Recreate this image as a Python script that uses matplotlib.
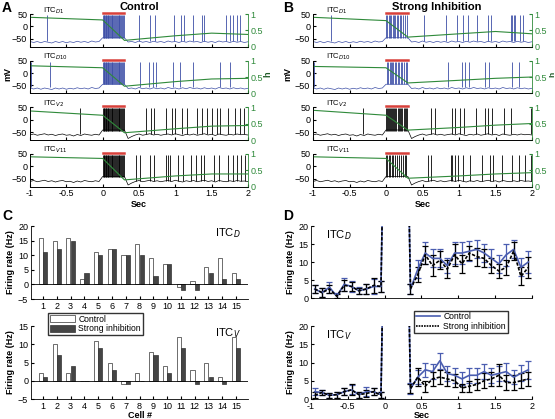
import numpy as np
import matplotlib.pyplot as plt
from matplotlib.lines import Line2D

plt.rcParams['font.family'] = ['Liberation Sans', 'DejaVu Sans']
plt.rcParams['font.size'] = 6.5
plt.rcParams['xtick.direction'] = 'in'
plt.rcParams['ytick.direction'] = 'in'
plt.rcParams['xtick.major.size'] = 2
plt.rcParams['ytick.major.size'] = 2
plt.rcParams['xtick.major.pad'] = 2
plt.rcParams['ytick.major.pad'] = 2
plt.rcParams['axes.linewidth'] = 0.6

# ---- traces (panels A, B) ----
t_grid = np.linspace(-1, 2, 61)
vm_d = [-60, -64, -60, -65, -60, -63, -66, -60, -64, -60, -65, -61, -64, -59, -63, -60, -64, -58, -62, -60,
        -45, -45, -45, -45, -45, -45, -45,
        -62, -60, -64, -58, -63, -60, -64, -59, -63, -60, -64, -58, -62, -60, -64, -59, -63, -58, -62, -60,
        -64, -59, -63, -60, -64, -58, -62, -60, -64, -59, -63, -60, -64, -61]
vm_v = [-62, -58, -63, -60, -57, -62, -59, -64, -60, -58, -63, -61, -66, -60, -64, -58, -61, -63, -59, -62,
        -42, -42, -42, -42, -42, -42, -42,
        -76, -68, -62, -58, -63, -60, -57, -62, -59, -63, -60, -58, -62, -57, -61, -64, -59, -62, -58, -63,
        -60, -57, -62, -59, -64, -58, -61, -63, -59, -62, -58, -61, -60, -62]

burst_ctrl = [0.004, 0.013, 0.022, 0.031, 0.040, 0.050, 0.060, 0.070, 0.080, 0.091, 0.102, 0.113, 0.124,
              0.135, 0.147, 0.159, 0.171, 0.183, 0.195, 0.207, 0.219, 0.231, 0.243, 0.255, 0.267, 0.279, 0.291]
burst_b_d1 = [0.005, 0.02, 0.035, 0.05, 0.07, 0.09, 0.11, 0.13, 0.15, 0.17, 0.19, 0.21, 0.235, 0.26, 0.285]
burst_b_d10 = [0.01, 0.03, 0.05, 0.065, 0.08, 0.1, 0.12, 0.14, 0.165, 0.18, 0.2, 0.225, 0.25, 0.27, 0.29]
burst_b_v2 = [0.004, 0.015, 0.026, 0.04, 0.055, 0.068, 0.08, 0.095, 0.11, 0.125, 0.14, 0.16, 0.175, 0.19,
              0.21, 0.225, 0.24, 0.26, 0.275, 0.29]
burst_b_v11 = [0.005, 0.02, 0.04, 0.06, 0.08, 0.1, 0.13, 0.15, 0.18, 0.2, 0.23, 0.26, 0.28]

spk_a_d1 = [-0.77, 0.50, 0.65, 0.72, 0.98, 1.08, 1.12, 1.24, 1.37, 1.40, 1.70, 1.75, 1.79, 1.85, 1.89]
spk_a_d10 = [-0.99, -0.73, 0.51, 0.64, 0.69, 0.74, 0.97, 1.06, 1.24, 1.61, 1.75]
spk_a_v2 = [-0.31, 0.60, 0.67, 0.71, 0.87, 0.96, 1.0, 1.09, 1.16, 1.30, 1.37, 1.44, 1.51, 1.58, 1.61,
            1.73, 1.82, 1.89, 1.94]
spk_a_v11 = [0.46, 0.51, 0.65, 0.70, 0.87, 0.90, 0.93, 1.03, 1.10, 1.21, 1.29, 1.35, 1.40, 1.53, 1.60,
             1.73, 1.79, 1.85, 1.90, 1.96]
spk_b_d1 = [-0.75, 0.52, 0.82, 0.97, 1.05, 1.13, 1.25, 1.40, 1.44, 1.71, 1.73, 1.75, 1.77, 1.83, 1.88]
spk_b_d10 = [-0.99, 0.85, 1.04, 1.08, 1.14, 1.36, 1.41, 1.73, 1.82]
spk_b_v2 = [-0.32, 0.61, 0.67, 0.90, 0.94, 1.02, 1.07, 1.23, 1.35, 1.40, 1.45, 1.62, 1.71, 1.99]
spk_b_v11 = [0.57, 0.61, 0.89, 0.91, 0.95, 0.99, 1.05, 1.15, 1.32, 1.42, 1.47, 1.59, 1.73, 1.82, 1.91, 1.99]

h_t = [-1, 0, 0.3, 1.0, 1.5, 2.0]
h_a_d1 = [0.9, 0.82, 0.2, 0.34, 0.42, 0.38]
h_a_d10 = [0.84, 0.78, 0.22, 0.36, 0.44, 0.46]
h_a_v2 = [0.88, 0.75, 0.22, 0.34, 0.42, 0.44]
h_a_v11 = [0.9, 0.85, 0.2, 0.32, 0.38, 0.38]
h_b_d1 = [0.9, 0.8, 0.3, 0.4, 0.47, 0.4]
h_b_d10 = [0.82, 0.78, 0.32, 0.4, 0.46, 0.5]
h_b_v2 = [0.9, 0.75, 0.3, 0.38, 0.45, 0.5]
h_b_v11 = [0.9, 0.85, 0.25, 0.32, 0.38, 0.42]

trace_names = ['ITC$_{D1}$', 'ITC$_{D10}$', 'ITC$_{V2}$', 'ITC$_{V11}$']

# ---- panel C ----
cells = np.arange(1, 16)
rate_cd_ctrl = [16, 15, 16, 2, 11, 12, 10, 14, 9, 7, -1, 1, 6, 9, 4]
rate_cd_strong = [11, 12, 15, 4, 10, 12, 10, 10, 3, 7, -2, -2, 4, 2, 2]
rate_cv_ctrl = [2, 10, 2, 0, 11, 5, -1, 2, 8, 4, 12, 3, 5, 1, 12]
rate_cv_strong = [1, 7, 4, 0, 9, 3, -1, 0, 7, 2, 9, -1, 1, -1, 9]

# ---- panel D ----
t_bins = np.round(np.arange(-0.95, 2.0, 0.1), 2)
rate_d_ctrl = [2.5, 1.5, 3.0, 0.5, 3.8, 3.2, 2.0, 2.5, 3.2, 3.2, 120, 120, 120, 2.5, 8.0, 12.5, 11.0,
               11.0, 9.0, 12.5, 12.5, 13.0, 13.5, 12.5, 11.0, 9.5, 12.0, 13.5, 8.5, 10.0]
err_d_ctrl = [1.2, 1.2, 1.5, 0.8, 1.8, 1.5, 1.0, 1.5, 2.0, 1.5, 0, 0, 0, 1.5, 2.5, 3.0, 2.5, 2.5, 2.0,
              3.0, 3.0, 2.8, 2.5, 2.5, 2.5, 2.5, 3.0, 2.5, 2.5, 3.0]
rate_d_strong = [2.5, 1.5, 2.5, 0.5, 3.5, 3.2, 2.0, 2.5, 3.5, 3.2, 120, 120, 120, 2.5, 6.5, 12.0, 9.0,
                 10.5, 8.0, 12.0, 9.5, 12.5, 11.5, 11.0, 9.0, 7.5, 8.5, 13.0, 6.0, 8.5]
err_d_strong = [1.2, 1.2, 1.2, 0.6, 1.5, 1.2, 0.8, 1.5, 2.0, 1.5, 0, 0, 0, 1.5, 2.0, 2.5, 3.0, 2.5, 2.5,
                3.0, 2.5, 2.0, 2.5, 2.5, 2.0, 2.0, 2.0, 2.5, 2.5, 3.0]
rate_v_ctrl = [2.0, 1.8, 1.0, 1.2, 2.0, 2.5, 1.2, 2.0, 2.0, 1.2, 120, 120, 120, 2.8, 6.0, 8.0, 7.5,
               10.5, 7.0, 6.5, 5.5, 6.5, 6.5, 7.5, 6.5, 7.0, 7.5, 6.0, 7.0, 8.0]
err_v_ctrl = [1.0, 0.8, 0.6, 0.8, 1.0, 1.2, 0.8, 1.2, 1.0, 0.8, 0, 0, 0, 1.5, 2.0, 2.0, 2.0, 2.2, 2.0,
              2.0, 1.8, 2.0, 2.0, 2.0, 2.0, 2.0, 2.5, 2.0, 2.2, 2.5]
rate_v_strong = [1.0, 1.8, 1.0, 1.2, 2.0, 2.5, 1.2, 1.5, 2.0, 1.0, 120, 120, 120, 2.8, 6.0, 3.5, 5.5,
                 6.0, 5.5, 5.0, 3.0, 3.5, 4.0, 5.0, 5.5, 6.5, 4.5, 4.5, 5.0, 5.5]
err_v_strong = [0.8, 0.8, 0.6, 0.8, 1.0, 1.5, 0.8, 1.0, 1.0, 0.8, 0, 0, 0, 1.2, 2.5, 1.5, 2.0, 2.0, 2.0,
                1.8, 1.2, 1.5, 1.5, 2.0, 2.0, 3.0, 2.0, 2.0, 2.0, 2.0]

blue = '#3c4ea6'
green = '#2f8a3a'
red = '#d8403a'
W, H = 555, 419

fig = plt.figure(figsize=(W / 100, H / 100), dpi=100)


def box(l, t, r, b):
    return [l / W, 1 - b / H, (r - l) / W, (b - t) / H]


def draw_trace(rect, vm, spikes, burst, hv, color, name, last):
    ax = fig.add_axes(rect)
    ax.plot(t_grid, vm, color=color, lw=0.5)
    ax.vlines(spikes, -58, 45, color=color, lw=0.6)
    ax.vlines(burst, -45, 45, color=color, lw=0.6)
    ax.set_xlim(-1, 2)
    ax.set_ylim(-82, 50)
    ax.set_yticks([-50, 0, 50])
    ax.set_xticks([-1, -0.5, 0, 0.5, 1, 1.5, 2])
    ax.set_xticklabels(['-1', '-0.5', '0', '0.5', '1', '1.5', '2'])
    ax.tick_params(labelbottom=last)
    ax.spines['top'].set_visible(False)
    ax.spines['right'].set_visible(False)
    ax.plot([0, 0.3], [1.03, 1.03], color=red, lw=1.8, transform=ax.get_xaxis_transform(),
            clip_on=False)
    ax.text(-0.82, 1.1, name, fontsize=5.5, transform=ax.get_xaxis_transform(), va='center')
    ax2 = ax.twinx()
    ax2.plot(h_t, hv, color=green, lw=0.8)
    ax2.set_ylim(0, 1)
    ax2.set_yticks([0, 0.5, 1])
    ax2.set_yticklabels(['0', '0.5', '1'])
    ax2.tick_params(axis='y', colors=green)
    ax2.spines['right'].set_color(green)
    ax2.spines['top'].set_visible(False)
    return ax


row_tops = [14, 60.5, 107, 153.5]
a_set = [(vm_d, spk_a_d1, burst_ctrl, h_a_d1, blue), (vm_d, spk_a_d10, burst_ctrl, h_a_d10, blue),
         (vm_v, spk_a_v2, burst_ctrl, h_a_v2, 'k'), (vm_v, spk_a_v11, burst_ctrl, h_a_v11, 'k')]
b_set = [(vm_d, spk_b_d1, burst_b_d1, h_b_d1, blue), (vm_d, spk_b_d10, burst_b_d10, h_b_d10, blue),
         (vm_v, spk_b_v2, burst_b_v2, h_b_v2, 'k'), (vm_v, spk_b_v11, burst_b_v11, h_b_v11, 'k')]
for left, right, sets in [(30, 248, a_set), (313, 532, b_set)]:
    for i, (vm, spk, bur, hv, col) in enumerate(sets):
        ax = draw_trace(box(left, row_tops[i], right, row_tops[i] + 33), vm, spk, bur, hv, col,
                        trace_names[i], i == 3)
        if i == 3:
            ax.set_xlabel('Sec', fontweight='bold', labelpad=1)

fig.text(8 / W, 1 - 74 / H, 'mV', rotation=90, fontweight='bold', ha='center', va='center')
fig.text(268 / W, 1 - 74 / H, 'h', rotation=90, color='#1e5a26', fontweight='bold', ha='center', va='center')
fig.text(288 / W, 1 - 74 / H, 'mV', rotation=90, fontweight='bold', ha='center', va='center')
fig.text(552.5 / W, 1 - 74 / H, 'h', rotation=90, color='#1e5a26', fontweight='bold', fontsize=6,
         ha='center', va='center')
fig.text(139 / W, 1 - 7 / H, 'Control', fontweight='bold', fontsize=8, ha='center', va='center')
fig.text(437 / W, 1 - 7 / H, 'Strong Inhibition', fontweight='bold', fontsize=8, ha='center', va='center')
for letter, x, y in [('A', 2, 1), ('B', 283, 1), ('C', 2, 209), ('D', 283, 209)]:
    fig.text(x / W, 1 - y / H, letter, fontweight='bold', fontsize=10, va='top')

# ---- panel C ----
for (top, bottom, ctrl, strong, ylim, name, last) in [
        (226, 299, rate_cd_ctrl, rate_cd_strong, (-5, 20), 'ITC$_D$', False),
        (326, 399, rate_cv_ctrl, rate_cv_strong, (-5, 15), 'ITC$_V$', True)]:
    ax = fig.add_axes(box(31, top, 248, bottom))
    ax.bar(cells - 0.16, ctrl, 0.3, color='white', edgecolor='#333333', lw=0.5, label='Control')
    ax.bar(cells + 0.16, strong, 0.3, color='#454545', edgecolor='#333333', lw=0.5,
           label='Strong inhibition')
    ax.axhline(0, color='k', lw=0.6)
    ax.set_xlim(0.13, 15.87)
    ax.set_ylim(*ylim)
    ax.set_xticks(cells)
    ax.set_yticks(np.arange(ylim[0], ylim[1] + 1, 5))
    ax.spines['top'].set_visible(False)
    ax.spines['right'].set_visible(False)
    ax.set_ylabel('Firing rate (Hz)', fontweight='bold', labelpad=2)
    ax.text(0.965, 0.9, name, transform=ax.transAxes, fontsize=8, ha='right', va='center')
    if last:
        ax.set_xlabel('Cell #', fontweight='bold', labelpad=0)
        ax.legend(loc='upper left', bbox_to_anchor=(0.08, 1.18), fontsize=6.2, frameon=True,
                  fancybox=False, edgecolor='k', handlelength=2.9, handleheight=0.9,
                  borderpad=0.2, labelspacing=0.1, handletextpad=0.4, borderaxespad=0)

# ---- panel D ----
for (top, bottom, rc, ec, rs, es, name, last) in [
        (226, 298, rate_d_ctrl, err_d_ctrl, rate_d_strong, err_d_strong, 'ITC$_D$', False),
        (326, 399, rate_v_ctrl, err_v_ctrl, rate_v_strong, err_v_strong, 'ITC$_V$', True)]:
    ax = fig.add_axes(box(311, top, 532, bottom))
    ax.errorbar(t_bins, rc, yerr=ec, color='#4a5db0', lw=1.2, elinewidth=0.9, capsize=2,
                capthick=0.9)
    eb = ax.errorbar(t_bins, rs, yerr=es, color='k', lw=1.2, elinewidth=0.9, capsize=2,
                     capthick=0.9)
    eb[0].set_linestyle((0, (2, 1)))
    ax.set_xlim(-1, 2)
    ax.set_ylim(0, 20)
    ax.set_yticks([0, 5, 10, 15, 20])
    ax.set_xticks([-1, -0.5, 0, 0.5, 1, 1.5, 2])
    ax.set_xticklabels(['-1', '-0.5', '0', '0.5', '1', '1.5', '2'])
    ax.tick_params(labelbottom=last)
    ax.spines['top'].set_visible(False)
    ax.spines['right'].set_visible(False)
    ax.set_ylabel('Firing rate (Hz)', fontweight='bold', labelpad=2)
    ax.text(0.07, 0.88, name, transform=ax.transAxes, fontsize=8, va='center')
    if last:
        ax.set_xlabel('Sec', fontweight='bold', labelpad=0)
        handles = [Line2D([], [], color='#4a5db0', lw=1.2),
                   Line2D([], [], color='k', lw=1.2, linestyle=(0, (1, 0.6)))]
        ax.legend(handles, ['Control', 'Strong inhibition'], loc='upper left',
                  bbox_to_anchor=(0.466, 1.21), fontsize=6.2, frameon=True, fancybox=False,
                  edgecolor='k', handlelength=2.8, borderpad=0.2, labelspacing=0.1,
                  handletextpad=0.4, borderaxespad=0)

fig.savefig('out.png', dpi=100)
